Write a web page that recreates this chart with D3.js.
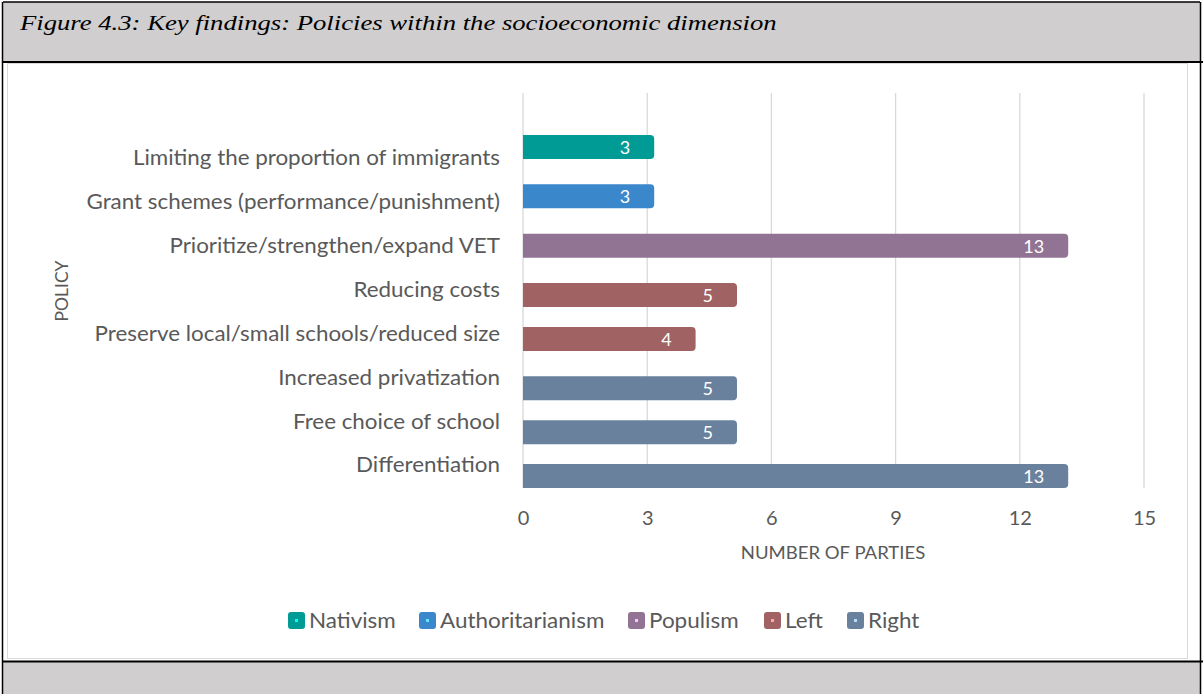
<!DOCTYPE html>
<html><head><meta charset="utf-8">
<script src="https://cdn.jsdelivr.net/npm/d3@7"></script>
<style>body{margin:0;background:#fff;}svg{display:block;}</style>
</head><body>
<script>
const categories = ["Limiting the proportion of immigrants","Grant schemes (performance/punishment)","Prioritize/strengthen/expand VET","Reducing costs","Preserve local/small schools/reduced size","Increased privatization","Free choice of school","Differentiation"];
const seriesNames = ["Nativism","Authoritarianism","Populism","Left","Right"];
const seriesColors = ["#009B95","#3A87CC","#917393","#A06262","#6A819E"];
const categorySeries = ["Nativism","Authoritarianism","Populism","Left","Left","Right","Right","Right"];
const values = [3,3,13,5,4,5,5,13];
const xTicks = [0,3,6,9,12,15];
const title = "Figure 4.3: Key findings: Policies within the socioeconomic dimension";

const W=1203,H=694;
const svg=d3.select("body").append("svg").attr("width",W).attr("height",H);
function stretch(sel, sx){
  sel.each(function(){
    const t=d3.select(this); const x=+t.attr("x")||0;
    t.attr("transform",`translate(${x},0) scale(${sx},1) translate(${-x},0)`);
  });
}
// frame
svg.append("rect").attr("x",0).attr("y",0).attr("width",W).attr("height",H).attr("fill","#fff");
svg.append("rect").attr("x",3).attr("y",2).attr("width",1197).attr("height",60).attr("fill","#D0CECE");
svg.append("rect").attr("x",3).attr("y",662).attr("width",1197).attr("height",32).attr("fill","#D0CECE");
svg.append("rect").attr("x",7.5).attr("y",63.5).attr("width",1180).attr("height",595).attr("fill","#fff").attr("stroke","#d9d9d9").attr("stroke-width",1);
const blk=[[3,2,1200,2],[2.5,2,2.5,694],[1200.5,2,1200.5,694],[3,62,1203,62],[3,661.5,1203,661.5]];
svg.selectAll("line.frame").data(blk).join("line").attr("class","frame")
 .attr("x1",d=>d[0]).attr("y1",d=>d[1]).attr("x2",d=>d[2]).attr("y2",d=>d[3]).attr("stroke","#000").attr("stroke-width",(d,i)=>i>=3?2:1.5);
svg.append("text").attr("x",20).attr("y",30).attr("font-family","Liberation Serif, serif").attr("font-style","italic").attr("font-size",21).attr("fill","#000").text(title)
 .call(stretch,1.27);

const x=d3.scaleLinear().domain([0,15]).range([523,1144]);
const y=d3.scaleBand().domain(categories).range([136,487]);
const sub=d3.scaleLinear().domain([0,4]).range([-11,11]);
const color=d3.scaleOrdinal().domain(seriesNames).range(seriesColors);
const font="Lato, 'Open Sans', sans-serif";
const gray="#595959";

// gridlines
svg.append("g").selectAll("line").data(xTicks).join("line")
 .attr("x1",d=>x(d)).attr("x2",d=>x(d)).attr("y1",93).attr("y2",488)
 .attr("stroke","#d9d9d9").attr("stroke-width",1.3);

// x axis labels
const xa=svg.append("g").attr("transform","translate(0,518)")
 .call(d3.axisBottom(x).tickValues(xTicks).tickSize(0).tickPadding(0));
xa.select(".domain").remove();
xa.selectAll("text").attr("font-family",font).attr("font-size",20).attr("fill",gray).attr("dy","0.35em").attr("y",0);

// y axis labels
const ya=svg.append("g").attr("transform","translate(500,0)")
 .call(d3.axisLeft(y).tickSize(0).tickPadding(0));
ya.select(".domain").remove();
ya.selectAll("text").attr("font-family",font).attr("font-size",21).attr("fill",gray).attr("dy","0.35em").call(stretch,1.066);

// bars
const bh=24, ext=7;
const bars=svg.append("g").selectAll("g").data(categories).join("g");
bars.append("path").attr("fill",(d,i)=>color(categorySeries[i]))
 .attr("d",(d,i)=>{
   const x0=x(0), x1=x(values[i])+ext, yc=y(d)+y.bandwidth()/2+sub(seriesNames.indexOf(categorySeries[i]));
   const t=yc-bh/2, b=yc+bh/2, r=4;
   return `M${x0},${t}H${x1-r}Q${x1},${t} ${x1},${t+r}V${b-r}Q${x1},${b} ${x1-r},${b}H${x0}Z`;
 });
bars.append("text").attr("text-anchor","end").attr("font-family",font).attr("font-size",18).attr("fill","#fff")
 .attr("x",(d,i)=>x(values[i])+ext-24)
 .attr("y",(d,i)=>y(d)+y.bandwidth()/2+sub(seriesNames.indexOf(categorySeries[i])))
 .attr("dy","0.38em").text((d,i)=>values[i]);

// axis titles
svg.append("text").attr("x",833).attr("y",553).attr("dy","0.35em").attr("text-anchor","middle").attr("font-family",font).attr("font-size",18).attr("fill",gray).text("NUMBER OF PARTIES").call(stretch,1.03);
svg.append("text").attr("transform","translate(62,291) rotate(-90) scale(1.03,1)").attr("dy","0.35em").attr("text-anchor","middle").attr("font-family",font).attr("font-size",17).attr("fill",gray).text("POLICY");

// legend
const legX=[288,419,628,764,847];
const lg=svg.append("g").selectAll("g").data(seriesNames).join("g").attr("transform",(d,i)=>`translate(${legX[i]},612)`);
lg.append("rect").attr("width",17).attr("height",17).attr("rx",3).attr("fill",d=>color(d));
lg.append("rect").attr("x",7).attr("y",7).attr("width",3).attr("height",3).attr("fill",d=>d3.color(color(d)).brighter(1.5));
lg.append("text").attr("x",21).attr("y",9).attr("dy","0.35em").attr("font-family",font).attr("font-size",21).attr("fill",gray).text(d=>d).call(stretch,1.07);
</script>
</body></html>
